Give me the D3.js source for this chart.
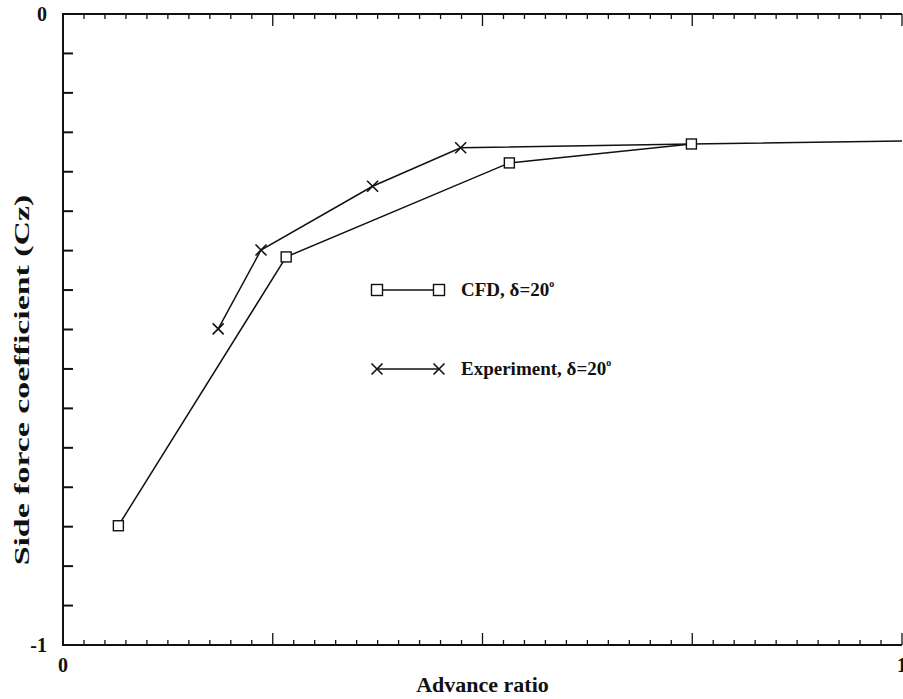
<!DOCTYPE html>
<html>
<head>
<meta charset="utf-8">
<script src="https://cdn.jsdelivr.net/npm/d3@7"></script>
<style>
  body { margin: 0; background: #fff; }
  text { font-family: "Liberation Serif", "DejaVu Serif", serif; font-weight: bold; fill: #111; }
</style>
</head>
<body>
<div id="chart"></div>
<script>
// CFD data (advance ratio, side force coefficient)
const cfdAdvance = [0.066, 0.266, 0.532, 0.749, 1.1];
const cfdCz = [-0.811, -0.385, -0.236, -0.206, -0.1995];

// experiment data
const expAdvance = [0.185, 0.236, 0.369, 0.474, 0.749];
const expCz = [-0.499, -0.374, -0.273, -0.212, -0.206];

const xTickLabels = ["0", "1"];
const yTickLabels = ["0", "-1"];

const width = 903, height = 699;
const margin = { top: 14, right: 1, bottom: 54, left: 63 };

const svg = d3.select("#chart").append("svg")
    .attr("width", width)
    .attr("height", height);

const x = d3.scaleLinear().domain([0, 1]).range([margin.left, width - margin.right]);
const y = d3.scaleLinear().domain([-1, 0]).range([height - margin.bottom, margin.top]);

const ink = "#111";

// --- axes frame
const frame = svg.append("g").attr("stroke", ink).attr("stroke-width", 2);
frame.append("line").attr("x1", x(0)).attr("x2", x(1)).attr("y1", y(0)).attr("y2", y(0));
frame.append("line").attr("x1", x(0)).attr("x2", x(1)).attr("y1", y(-1)).attr("y2", y(-1));
frame.append("line").attr("x1", x(0)).attr("x2", x(0)).attr("y1", y(0) - 1).attr("y2", y(-1) + 1);

// x ticks every 0.025, longer at quarters
const xTicks = d3.range(1, 41).map(i => i / 40);
const tickG = svg.append("g").attr("stroke", ink).attr("stroke-width", 1.3);
xTicks.forEach(v => {
    const big = Math.abs(v * 4 - Math.round(v * 4)) < 1e-6;
    const len = big ? 12 : 5;
    tickG.append("line").attr("x1", x(v)).attr("x2", x(v))
        .attr("y1", y(-1)).attr("y2", y(-1) - len);
    tickG.append("line").attr("x1", x(v)).attr("x2", x(v))
        .attr("y1", y(0)).attr("y2", y(0) + len);
});

// y ticks every 1/16
d3.range(1, 16).map(i => -i / 16).forEach(v => {
    tickG.append("line").attr("x1", x(0)).attr("x2", x(0) + 10)
        .attr("y1", y(v)).attr("y2", y(v)).attr("stroke-width", 2);
});

// tick labels
svg.append("g").selectAll("text").data(yTickLabels).enter().append("text")
    .attr("x", x(0) - 16)
    .attr("y", d => y(+d) + 7)
    .attr("text-anchor", "end")
    .attr("font-size", 20)
    .text(d => d);

svg.append("g").selectAll("text").data(xTickLabels).enter().append("text")
    .attr("x", d => x(+d))
    .attr("y", y(-1) + 27)
    .attr("text-anchor", "middle")
    .attr("font-size", 20)
    .text(d => d);

// axis titles
svg.append("text")
    .attr("x", x(0.5))
    .attr("y", 692)
    .attr("text-anchor", "middle")
    .attr("font-size", 22)
    .text("Advance ratio");

// the scan stretches this title along its length
svg.append("text")
    .attr("transform", `translate(29, 380) rotate(-90) scale(1.54, 1)`)
    .attr("text-anchor", "middle")
    .attr("font-size", 22)
    .text("Side force coefficient (Cz)");

// --- series
const lineGen = d3.line().x(d => x(d[0])).y(d => y(d[1]));
const cfdPts = cfdAdvance.map((a, i) => [a, cfdCz[i]]);
const expPts = expAdvance.map((a, i) => [a, expCz[i]]);

svg.append("clipPath").attr("id", "plot-clip").append("rect")
    .attr("x", x(0)).attr("y", y(0)).attr("width", x(1) - x(0)).attr("height", y(-1) - y(0));

const plot = svg.append("g").attr("clip-path", "url(#plot-clip)");

plot.append("path").datum(cfdPts)
    .attr("d", lineGen).attr("fill", "none").attr("stroke", ink).attr("stroke-width", 1.5);
plot.append("path").datum(expPts)
    .attr("d", lineGen).attr("fill", "none").attr("stroke", ink).attr("stroke-width", 1.5);

function drawSquare(g, cx, cy, s) {
    g.append("rect").attr("x", cx - s / 2).attr("y", cy - s / 2)
        .attr("width", s).attr("height", s)
        .attr("fill", "#fff").attr("stroke", ink).attr("stroke-width", 1.4);
}
function drawCross(g, cx, cy, s) {
    const h = s / 2;
    g.append("path").attr("d", `M${cx - h},${cy - h}L${cx + h},${cy + h}M${cx - h},${cy + h}L${cx + h},${cy - h}`)
        .attr("stroke", ink).attr("stroke-width", 1.6).attr("fill", "none");
}

cfdPts.forEach(p => drawSquare(plot, x(p[0]), y(p[1]), 10));
// last experiment point sits under the CFD square, no marker shown
expPts.slice(0, -1).forEach(p => drawCross(plot, x(p[0]), y(p[1]), 11));

// --- legend
const legend = svg.append("g");
const lx1 = 377, lx2 = 439;
[[290, "CFD, δ=20", "sq"], [369, "Experiment, δ=20", "x"]].forEach(([ly, label, kind]) => {
    legend.append("line").attr("x1", lx1).attr("x2", lx2).attr("y1", ly).attr("y2", ly)
        .attr("stroke", ink).attr("stroke-width", 1.3);
    if (kind === "sq") {
        drawSquare(legend, lx1, ly, 11);
        drawSquare(legend, lx2, ly, 11);
    } else {
        drawCross(legend, lx1, ly, 11);
        drawCross(legend, lx2, ly, 11);
    }
    const t = legend.append("text").attr("x", 461).attr("y", ly + 6).attr("font-size", 19).text(label);
    t.append("tspan").attr("font-size", 10).attr("dy", -9).text("o");
});
</script>
</body>
</html>
